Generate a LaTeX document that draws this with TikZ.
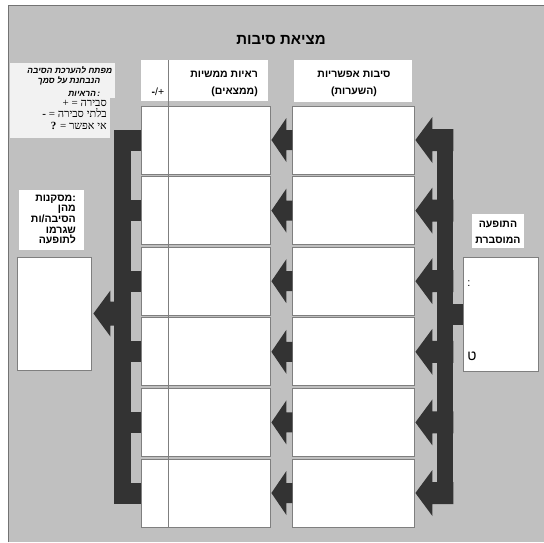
\documentclass[tikz,border=0pt]{standalone}
\usepackage{fontspec}
\usetikzlibrary{calc}
\setmainfont{Liberation Sans}
\newfontfamily\lat{Liberation Sans}
\newfontfamily\latserif{Liberation Serif}
\newfontfamily\heb[Script=Hebrew]{Liberation Sans}
\newfontfamily\hebserif[Script=Hebrew]{Liberation Serif}
\newfontfamily\hebit[Script=Hebrew,FakeSlant=0.2]{Liberation Sans}
\newfontfamily\latit[FakeSlant=0.2]{Liberation Sans}
\definecolor{bg}{HTML}{C0C0C0}
\definecolor{dk}{HTML}{333333}
\definecolor{bx}{HTML}{7F7F7F}
\definecolor{lgc}{HTML}{F2F2F2}
% Hebrew words are set one by one (each word is shaped right-to-left),
% placed in visual left-to-right order.
\newcommand\hw[1]{{\heb #1}}
\newcommand\hws[1]{{\hebserif #1}}
\newcommand\hwi[1]{{\hebit #1}}
\begin{document}
\begin{tikzpicture}[x=1pt,y=-1pt,
  box/.style={draw=bx, line width=0.8pt, fill=white, inner sep=0pt},
  evbox/.style={box, minimum width=129pt, minimum height=68pt},
  hybox/.style={box, minimum width=122pt, minimum height=68pt},
  hdbox/.style={fill=white, inner sep=0pt},
  hdtxt/.style={font=\bfseries\fontsize{10.5}{12}\selectfont, inner sep=0pt},
  lgit/.style={font=\bfseries\fontsize{8.5}{10}\selectfont, inner sep=0pt},
  lgser/.style={font=\latserif\fontsize{11}{12}\selectfont, inner sep=0pt},
  arr/.style={fill=dk}]
\useasboundingbox (0,0) rectangle (544,542);
\fill[white] (0,0) rectangle (544,542);
\fill[bg] (8,5) rectangle (544,542);
\draw[line width=1pt, color=black!55] (8,542) -- (8,5) -- (544,5);

% title
\node[font=\bfseries\fontsize{15}{18}\selectfont, inner sep=0pt] (title) at (281,40) {\hw{סיבות} \hw{מציאת}};

% legend
\fill[lgc] (10,63) rectangle (115,98);
\fill[lgc] (10,98) rectangle (110,138);
\node[lgit, anchor=base east] (l1) at (112,73) {\hwi{הסיבה} \hwi{להערכת} \hwi{מפתח}};
\node[lgit, anchor=base east] (l2) at (100,83.5) {\hwi{סמך} \hwi{על} \hwi{הנבחנת}};
\node[lgit, anchor=base east] (l3) at (100,96) {\hwi{הראיות}\,{\latit:}};
\node[lgser, anchor=base east] (l4) at (107,106.5) {+ = \hws{סבירה}};
\node[lgser, anchor=base east] (l5) at (107,117.5) {\textbf{-} = \hws{סבירה} \hws{בלתי}};
\node[lgser, anchor=base east] (l6) at (107,129.5) {\textbf{?} = \hws{אפשר} \hws{אי}};

% column headers
\node[hdbox, minimum width=127pt, minimum height=41pt] (hd1) at (204.5,80.5) {};
\node[hdbox, minimum width=118pt, minimum height=42pt] (hd2) at (353,81) {};
\node[hdtxt, anchor=east] (t1a) at (258,74) {\hw{ממשיות} \hw{ראיות}};
\node[hdtxt, anchor=east] (t1b) at (258,92) {(\hw{ממצאים})};
\node[font=\fontsize{10.5}{12}\selectfont, inner sep=0pt] (t1c) at (158,92) {\textbf{-}/+};
\node[hdtxt] (t2a) at (354,74) {\hw{אפשריות} \hw{סיבות}};
\node[hdtxt] (t2b) at (354,92) {(\hw{השערות})};

% row boxes
\foreach \i in {0,...,5} {
  \pgfmathsetmacro\c{140+70.6*\i}
  \node[evbox] (e\i) at (205.5,\c) {};
  \node[hybox] (h\i) at (353,\c) {};
}
\coordinate (vt) at (168,60);
\coordinate (vb) at (168,527);
\draw[bx, line width=0.8pt] (vt) -- (vb);

% phenomenon
\node[hdbox, minimum width=52pt, minimum height=34pt] (phh) at (498,231) {};
\node[font=\bfseries\fontsize{10.5}{16}\selectfont, align=center, inner sep=0pt] (pht) at (498,232) {\hw{התופעה}\\\hw{המוסברת}};
\node[box, minimum width=75pt, minimum height=114pt] (p) at (500.5,314) {};
\node[font=\fontsize{11}{12}\selectfont, inner sep=0pt] (pg1) at (469,284) {:};
\node[font=\fontsize{14}{14}\selectfont, inner sep=0pt] (pg2) at (472,356) {\hw{ט}};

% conclusions
\node[hdbox, minimum width=65pt, minimum height=60pt] (chh) at (51.5,220) {};
\node[font=\bfseries\fontsize{10.5}{10.7}\selectfont, align=right, inner sep=0pt, anchor=east] (cht) at (76,219.5) {\hw{מסקנות}:\\\hw{מהן}\\\hw{הסיבה/ות}\\\hw{שגרמו}\\\hw{לתופעה}};
\node[box, minimum width=74pt, minimum height=113pt] (cb) at (54,313.5) {};

% middle arrows (hypothesis -> evidence)
\foreach \i in {0,...,5} {
  \fill[arr] ($(e\i.east)+(1,0)$) -- ++(15,-22) -- ++(0,12) -- ++(6,0) -- ++(0,20) -- ++(-6,0) -- ++(0,12) -- cycle;
}
% right bar and arrows (phenomenon -> hypotheses)
\coordinate (rb1) at (437,129);
\coordinate (rb2) at (453,504);
\fill[arr] (rb1) rectangle (rb2);
\foreach \i in {0,...,5} {
  \fill[arr] ($(h\i.east)+(1,0)$) -- ++(17,-23) -- ++(0,12) -- ++(21,0) -- ++(0,22) -- ++(-21,0) -- ++(0,12) -- cycle;
}
\fill[arr] ($(p.west)+(-10,-10.5)$) rectangle ($(p.west)+(0,10.5)$);

% left bracket (evidence -> conclusions)
\coordinate (lb1) at (114,130);
\coordinate (lb2) at (131,504);
\fill[arr] (lb1) rectangle (lb2);
\foreach \i in {0,...,5} {
  \fill[arr] ($(e\i.west)+(-10,-10.5)$) rectangle ($(e\i.west)+(0,10.5)$);
}
\fill[arr] ($(cb.east)+(2,0)$) -- ++(17,-23) -- ++(0,11) -- ++(5,0) -- ++(0,24) -- ++(-5,0) -- ++(0,11) -- cycle;
\end{tikzpicture}
\end{document}
